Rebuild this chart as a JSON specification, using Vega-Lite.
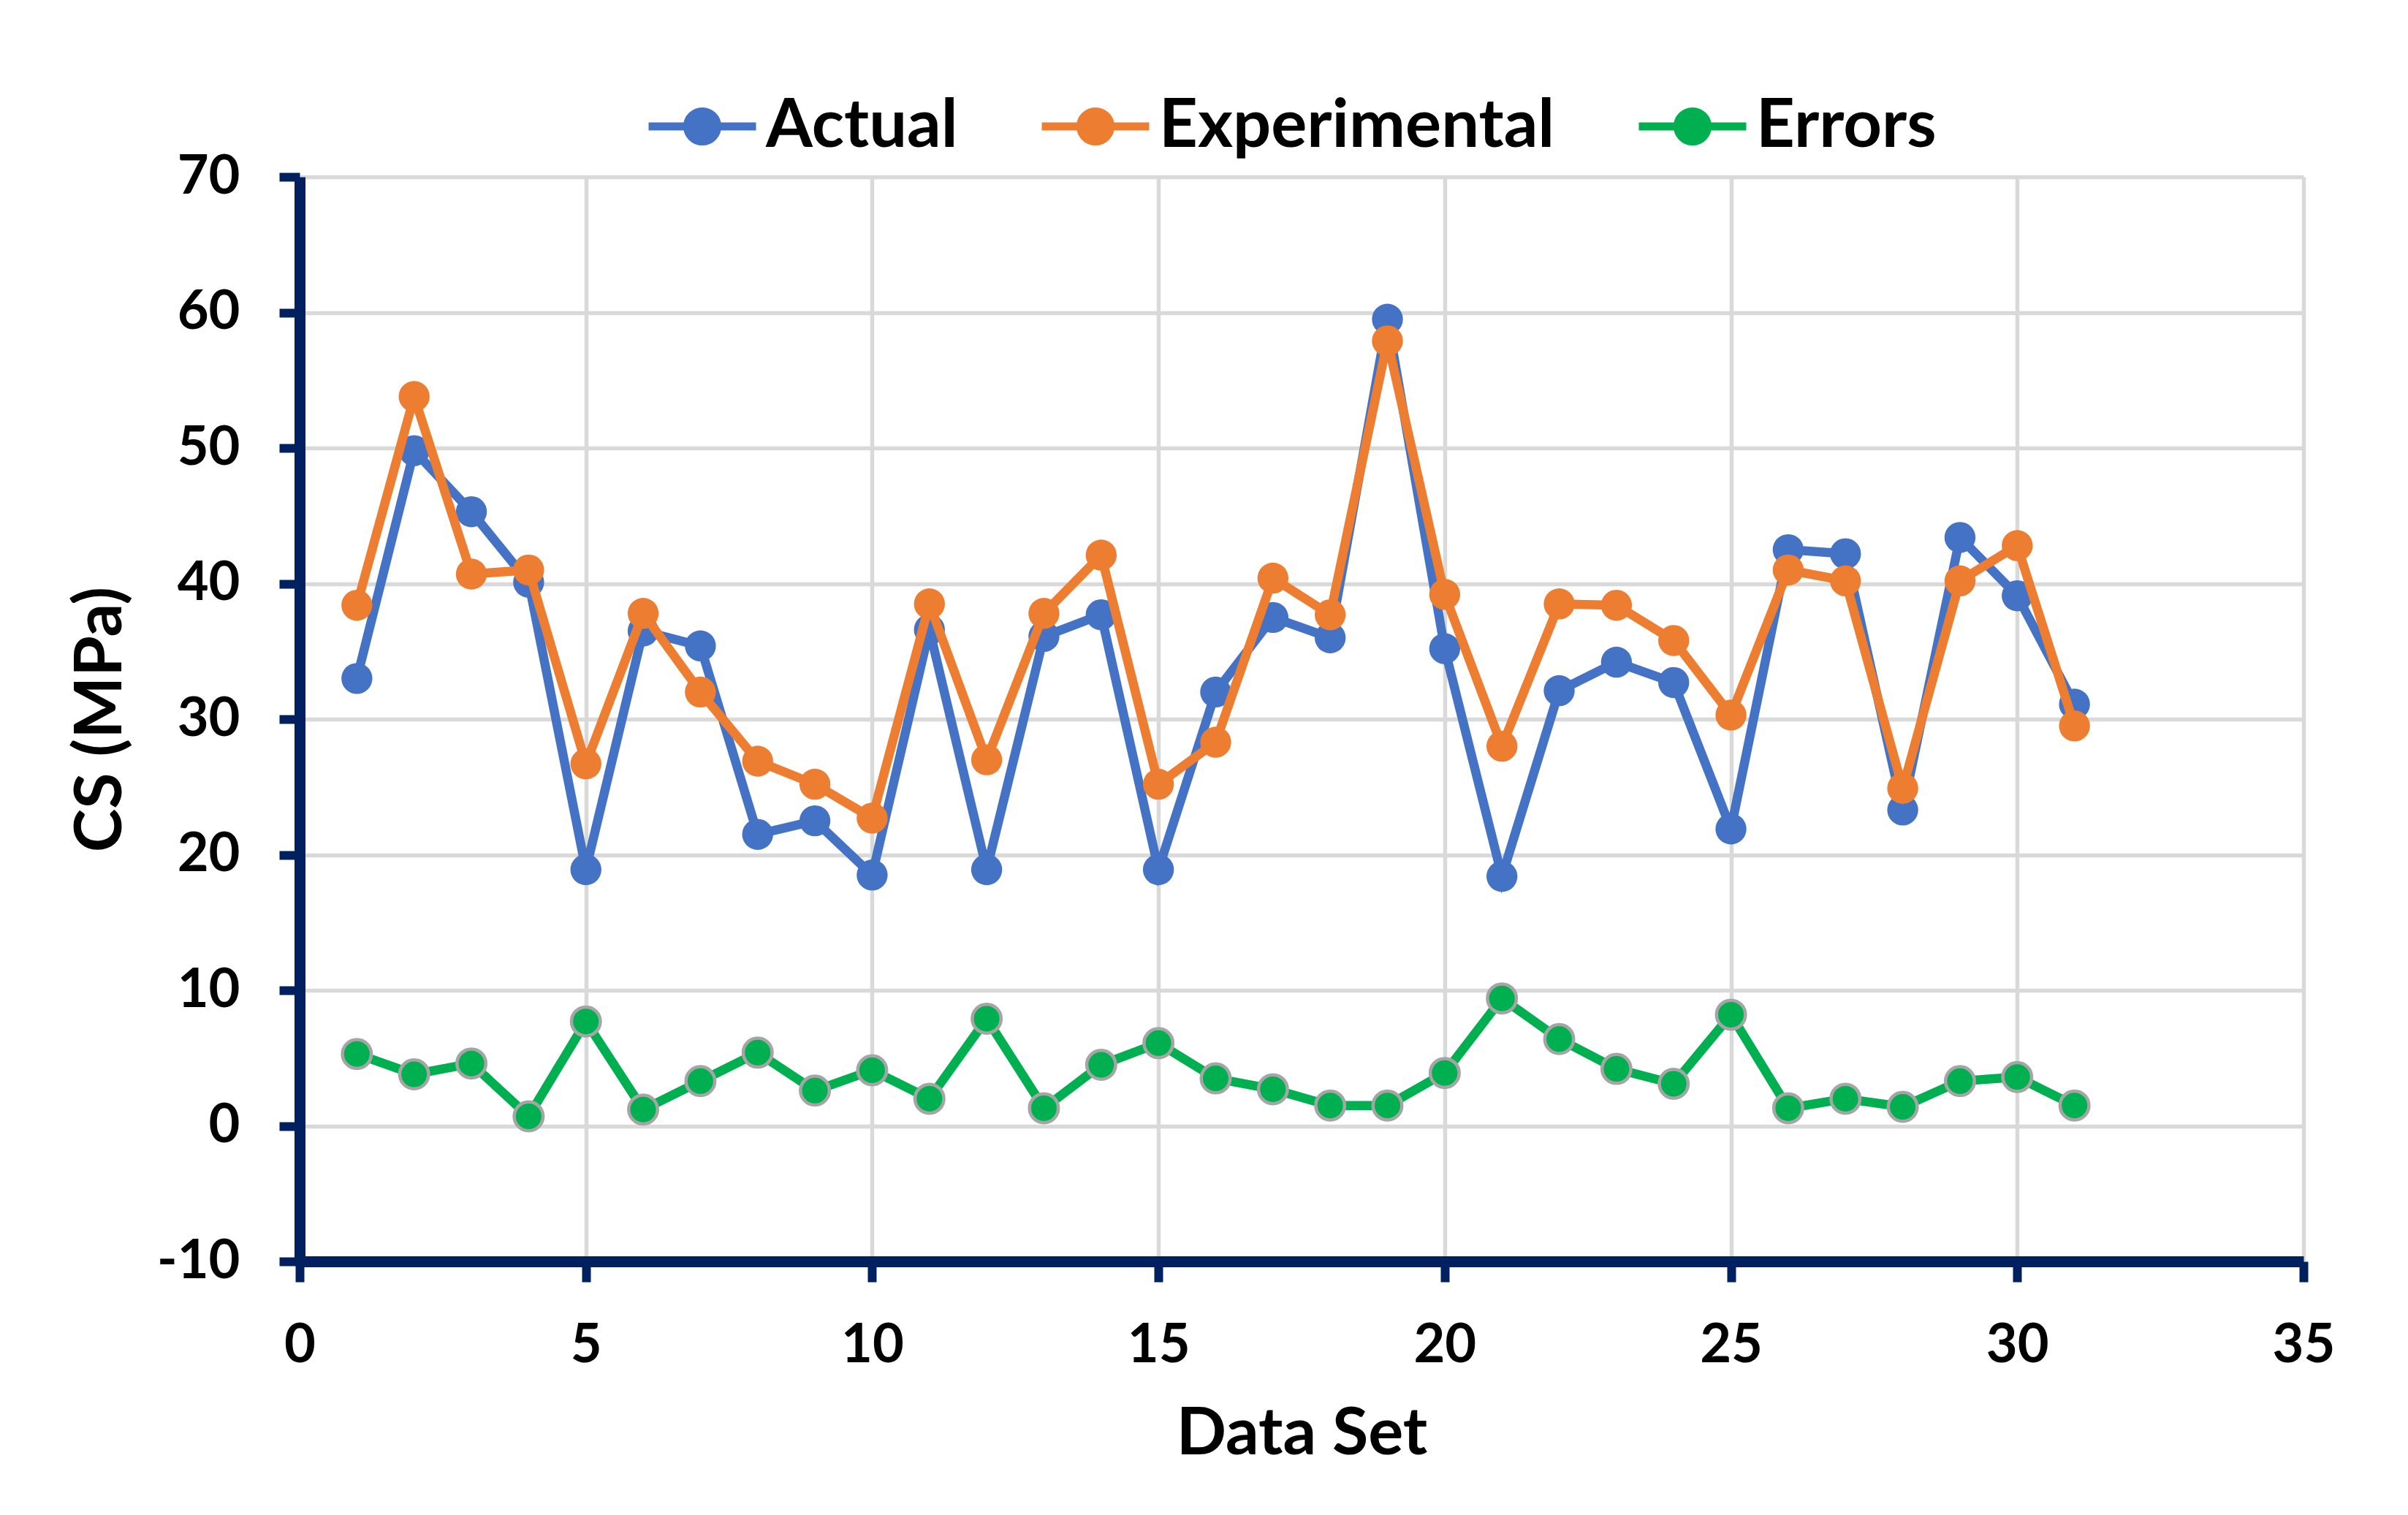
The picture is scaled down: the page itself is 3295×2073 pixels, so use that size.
{
  "$schema": "https://vega.github.io/schema/vega-lite/v6.json",
  "autosize": {"type": "none"},
  "width": 2742,
  "height": 1484,
  "padding": {"left": 410, "top": 242, "right": 143, "bottom": 347},
  "background": "white",
  "config": {"font": "Lato", "view": {"stroke": null}},
  "data": {"values": [
    {"DataSet": 1, "Series": "Actual", "CS": 33.0},
    {"DataSet": 2, "Series": "Actual", "CS": 49.8},
    {"DataSet": 3, "Series": "Actual", "CS": 45.3},
    {"DataSet": 4, "Series": "Actual", "CS": 40.1},
    {"DataSet": 5, "Series": "Actual", "CS": 18.9},
    {"DataSet": 6, "Series": "Actual", "CS": 36.5},
    {"DataSet": 7, "Series": "Actual", "CS": 35.4},
    {"DataSet": 8, "Series": "Actual", "CS": 21.5},
    {"DataSet": 9, "Series": "Actual", "CS": 22.5},
    {"DataSet": 10, "Series": "Actual", "CS": 18.5},
    {"DataSet": 11, "Series": "Actual", "CS": 36.6},
    {"DataSet": 12, "Series": "Actual", "CS": 18.9},
    {"DataSet": 13, "Series": "Actual", "CS": 36.1},
    {"DataSet": 14, "Series": "Actual", "CS": 37.7},
    {"DataSet": 15, "Series": "Actual", "CS": 18.9},
    {"DataSet": 16, "Series": "Actual", "CS": 32.0},
    {"DataSet": 17, "Series": "Actual", "CS": 37.5},
    {"DataSet": 18, "Series": "Actual", "CS": 36.0},
    {"DataSet": 19, "Series": "Actual", "CS": 59.5},
    {"DataSet": 20, "Series": "Actual", "CS": 35.2},
    {"DataSet": 21, "Series": "Actual", "CS": 18.4},
    {"DataSet": 22, "Series": "Actual", "CS": 32.1},
    {"DataSet": 23, "Series": "Actual", "CS": 34.2},
    {"DataSet": 24, "Series": "Actual", "CS": 32.7},
    {"DataSet": 25, "Series": "Actual", "CS": 21.9},
    {"DataSet": 26, "Series": "Actual", "CS": 42.5},
    {"DataSet": 27, "Series": "Actual", "CS": 42.2},
    {"DataSet": 28, "Series": "Actual", "CS": 23.3},
    {"DataSet": 29, "Series": "Actual", "CS": 43.4},
    {"DataSet": 30, "Series": "Actual", "CS": 39.1},
    {"DataSet": 31, "Series": "Actual", "CS": 31.1},
    {"DataSet": 1, "Series": "Experimental", "CS": 38.4},
    {"DataSet": 2, "Series": "Experimental", "CS": 53.8},
    {"DataSet": 3, "Series": "Experimental", "CS": 40.7},
    {"DataSet": 4, "Series": "Experimental", "CS": 41.0},
    {"DataSet": 5, "Series": "Experimental", "CS": 26.7},
    {"DataSet": 6, "Series": "Experimental", "CS": 37.8},
    {"DataSet": 7, "Series": "Experimental", "CS": 32.0},
    {"DataSet": 8, "Series": "Experimental", "CS": 26.9},
    {"DataSet": 9, "Series": "Experimental", "CS": 25.2},
    {"DataSet": 10, "Series": "Experimental", "CS": 22.7},
    {"DataSet": 11, "Series": "Experimental", "CS": 38.5},
    {"DataSet": 12, "Series": "Experimental", "CS": 27.0},
    {"DataSet": 13, "Series": "Experimental", "CS": 37.8},
    {"DataSet": 14, "Series": "Experimental", "CS": 42.1},
    {"DataSet": 15, "Series": "Experimental", "CS": 25.2},
    {"DataSet": 16, "Series": "Experimental", "CS": 28.3},
    {"DataSet": 17, "Series": "Experimental", "CS": 40.4},
    {"DataSet": 18, "Series": "Experimental", "CS": 37.7},
    {"DataSet": 19, "Series": "Experimental", "CS": 57.9},
    {"DataSet": 20, "Series": "Experimental", "CS": 39.2},
    {"DataSet": 21, "Series": "Experimental", "CS": 28.0},
    {"DataSet": 22, "Series": "Experimental", "CS": 38.5},
    {"DataSet": 23, "Series": "Experimental", "CS": 38.4},
    {"DataSet": 24, "Series": "Experimental", "CS": 35.8},
    {"DataSet": 25, "Series": "Experimental", "CS": 30.3},
    {"DataSet": 26, "Series": "Experimental", "CS": 41.0},
    {"DataSet": 27, "Series": "Experimental", "CS": 40.2},
    {"DataSet": 28, "Series": "Experimental", "CS": 24.9},
    {"DataSet": 29, "Series": "Experimental", "CS": 40.2},
    {"DataSet": 30, "Series": "Experimental", "CS": 42.8},
    {"DataSet": 31, "Series": "Experimental", "CS": 29.5},
    {"DataSet": 1, "Series": "Errors", "CS": 5.3},
    {"DataSet": 2, "Series": "Errors", "CS": 3.8},
    {"DataSet": 3, "Series": "Errors", "CS": 4.6},
    {"DataSet": 4, "Series": "Errors", "CS": 0.7},
    {"DataSet": 5, "Series": "Errors", "CS": 7.7},
    {"DataSet": 6, "Series": "Errors", "CS": 1.2},
    {"DataSet": 7, "Series": "Errors", "CS": 3.3},
    {"DataSet": 8, "Series": "Errors", "CS": 5.4},
    {"DataSet": 9, "Series": "Errors", "CS": 2.6},
    {"DataSet": 10, "Series": "Errors", "CS": 4.1},
    {"DataSet": 11, "Series": "Errors", "CS": 2.0},
    {"DataSet": 12, "Series": "Errors", "CS": 7.9},
    {"DataSet": 13, "Series": "Errors", "CS": 1.3},
    {"DataSet": 14, "Series": "Errors", "CS": 4.5},
    {"DataSet": 15, "Series": "Errors", "CS": 6.1},
    {"DataSet": 16, "Series": "Errors", "CS": 3.5},
    {"DataSet": 17, "Series": "Errors", "CS": 2.7},
    {"DataSet": 18, "Series": "Errors", "CS": 1.5},
    {"DataSet": 19, "Series": "Errors", "CS": 1.5},
    {"DataSet": 20, "Series": "Errors", "CS": 3.9},
    {"DataSet": 21, "Series": "Errors", "CS": 9.4},
    {"DataSet": 22, "Series": "Errors", "CS": 6.4},
    {"DataSet": 23, "Series": "Errors", "CS": 4.2},
    {"DataSet": 24, "Series": "Errors", "CS": 3.1},
    {"DataSet": 25, "Series": "Errors", "CS": 8.2},
    {"DataSet": 26, "Series": "Errors", "CS": 1.3},
    {"DataSet": 27, "Series": "Errors", "CS": 2.0},
    {"DataSet": 28, "Series": "Errors", "CS": 1.4},
    {"DataSet": 29, "Series": "Errors", "CS": 3.3},
    {"DataSet": 30, "Series": "Errors", "CS": 3.6},
    {"DataSet": 31, "Series": "Errors", "CS": 1.5}
  ]},
  "encoding": {
    "x": {
      "field": "DataSet", "type": "quantitative",
      "scale": {"domain": [0, 35], "nice": false, "zero": false},
      "axis": {
        "values": [0, 5, 10, 15, 20, 25, 30, 35],
        "title": "Data Set",
        "grid": true, "gridColor": "#D9D9D9", "gridWidth": 5.5,
        "domainColor": "#002060", "domainWidth": 15,
        "tickColor": "#002060", "tickWidth": 12, "tickSize": 28,
        "labelFont": "Lato", "labelFontSize": 74, "labelFontWeight": "bold", "labelColor": "black",
        "labelPadding": 51, "labelFlush": false, "labelOverlap": false,
        "titleFont": "Lato", "titleFontSize": 90, "titleFontWeight": "bold", "titleColor": "black",
        "titlePadding": 40
      }
    },
    "y": {
      "field": "CS", "type": "quantitative",
      "scale": {"domain": [-10, 70], "nice": false, "zero": false},
      "axis": {
        "values": [-10, 0, 10, 20, 30, 40, 50, 60, 70],
        "labelExpr": "'' + datum.value",
        "title": "CS (MPa)",
        "grid": true, "gridColor": "#D9D9D9", "gridWidth": 5.5,
        "domainColor": "#002060", "domainWidth": 15,
        "tickColor": "#002060", "tickWidth": 12, "tickSize": 28,
        "labelFont": "Lato", "labelFontSize": 74, "labelFontWeight": "bold", "labelColor": "black",
        "labelPadding": 54, "labelOverlap": false,
        "titleFont": "Lato", "titleFontSize": 90, "titleFontWeight": "bold", "titleColor": "black",
        "titlePadding": 30
      }
    },
    "color": {
      "field": "Series", "type": "nominal",
      "scale": {"domain": ["Actual", "Experimental", "Errors"], "range": ["#4472C4", "#ED7D31", "#00B050"]},
      "legend": {
        "orient": "none", "legendX": 472, "legendY": -148,
        "direction": "horizontal", "columns": 3, "title": null,
        "symbolType": "M-1,0L1,0M-0.28,0A0.28,0.28,0,1,1,0.28,0A0.28,0.28,0,1,1,-0.28,0Z",
        "symbolSize": 21609, "symbolStrokeWidth": 11,
        "labelFont": "Lato", "labelFontSize": 92, "labelFontWeight": "bold", "labelColor": "black",
        "labelOffset": 8, "columnPadding": 92, "padding": 0, "labelLimit": 2000,
        "encode": {"symbols": {"update": {
          "fill": {"scale": "color", "field": "value"},
          "stroke": {"scale": "color", "field": "value"},
          "opacity": {"value": 1}
        }}}
      }
    }
  },
  "layer": [
    {
      "transform": [{"filter": "datum.Series === 'Actual'"}],
      "mark": {"type": "line", "strokeWidth": 12.5, "point": {"filled": true, "size": 1800, "opacity": 1}}
    },
    {
      "transform": [{"filter": "datum.Series === 'Experimental'"}],
      "mark": {"type": "line", "strokeWidth": 12.5, "point": {"filled": true, "size": 1800, "opacity": 1}}
    },
    {
      "transform": [{"filter": "datum.Series === 'Errors'"}],
      "mark": {"type": "line", "strokeWidth": 12.5, "point": {"filled": true, "size": 1560, "stroke": "#A5A5A5", "strokeWidth": 4.5, "opacity": 1}}
    }
  ]
}
